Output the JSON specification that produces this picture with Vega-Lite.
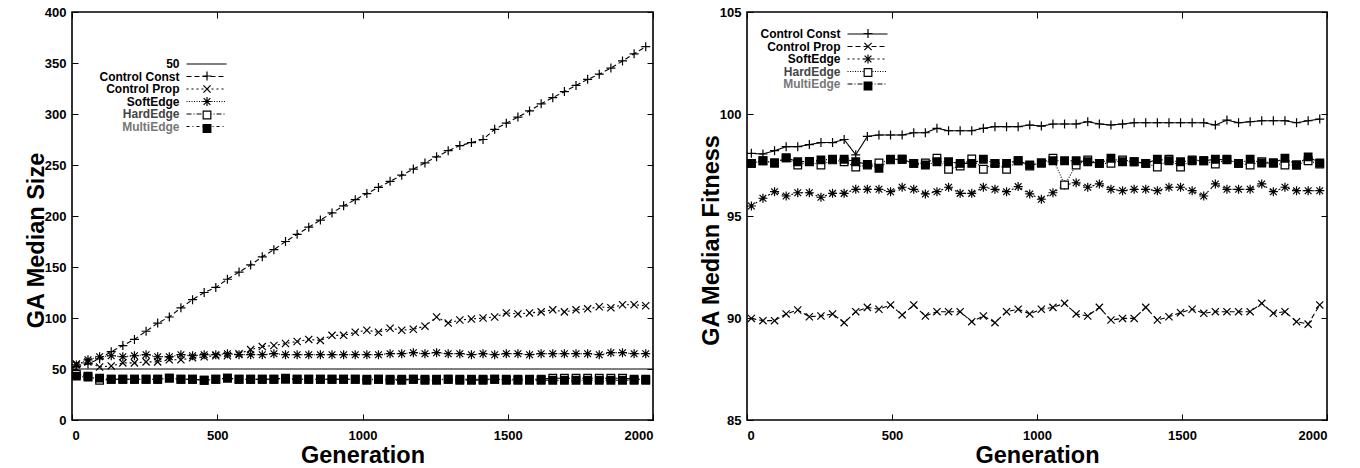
{
"$schema": "https://vega.github.io/schema/vega-lite/v6.json",
"background": "white",
"padding": {"left": 23, "top": 5, "right": 6, "bottom": 0},
"config": {
  "font": "Liberation Sans",
  "view": {"stroke": "black", "strokeWidth": 1.6},
  "axis": {"grid": false, "domain": false, "tickColor": "black", "tickSize": -6, "tickWidth": 1, "labelFont": "Liberation Sans", "labelFontSize": 13, "labelFontWeight": "bold", "labelColor": "black", "titleFont": "Liberation Sans", "titleFontSize": 23.5, "titleFontWeight": "bold", "titleColor": "black", "format": "d"},
  "axisX": {"labelPadding": 15, "titlePadding": 1},
  "axisY": {"labelPadding": 12, "titlePadding": -4, "titleY": 228},
  "legend": {"labelFont": "Liberation Sans", "labelFontSize": 12, "labelFontWeight": "bold", "labelColor": "black", "rowPadding": 0.5, "labelLimit": 300, "padding": 0}
},
"datasets": {
"size": [
{"g":0,"s":"50","v":50},{"g":2000,"s":"50","v":50},
{"g":15,"s":"Control Const","v":52},{"g":55,"s":"Control Const","v":55},{"g":95,"s":"Control Const","v":60},{"g":135,"s":"Control Const","v":67},{"g":175,"s":"Control Const","v":73},{"g":215,"s":"Control Const","v":79},{"g":255,"s":"Control Const","v":87},{"g":295,"s":"Control Const","v":95},{"g":335,"s":"Control Const","v":101},{"g":375,"s":"Control Const","v":110},
{"g":415,"s":"Control Const","v":118},{"g":455,"s":"Control Const","v":125},{"g":495,"s":"Control Const","v":130},{"g":535,"s":"Control Const","v":138},{"g":575,"s":"Control Const","v":145},{"g":615,"s":"Control Const","v":152},{"g":655,"s":"Control Const","v":160},{"g":695,"s":"Control Const","v":167},{"g":735,"s":"Control Const","v":175},{"g":775,"s":"Control Const","v":182},
{"g":815,"s":"Control Const","v":189},{"g":855,"s":"Control Const","v":196},{"g":895,"s":"Control Const","v":203},{"g":935,"s":"Control Const","v":210},{"g":975,"s":"Control Const","v":216},{"g":1015,"s":"Control Const","v":222},{"g":1055,"s":"Control Const","v":228},{"g":1095,"s":"Control Const","v":234},{"g":1135,"s":"Control Const","v":240},{"g":1175,"s":"Control Const","v":246},
{"g":1215,"s":"Control Const","v":252},{"g":1255,"s":"Control Const","v":258},{"g":1295,"s":"Control Const","v":264},{"g":1335,"s":"Control Const","v":269},{"g":1375,"s":"Control Const","v":272},{"g":1415,"s":"Control Const","v":275},{"g":1455,"s":"Control Const","v":285},{"g":1495,"s":"Control Const","v":291},{"g":1535,"s":"Control Const","v":297},{"g":1575,"s":"Control Const","v":303},
{"g":1615,"s":"Control Const","v":310},{"g":1655,"s":"Control Const","v":316},{"g":1695,"s":"Control Const","v":322},{"g":1735,"s":"Control Const","v":328},{"g":1775,"s":"Control Const","v":334},{"g":1815,"s":"Control Const","v":339},{"g":1855,"s":"Control Const","v":345},{"g":1895,"s":"Control Const","v":352},{"g":1935,"s":"Control Const","v":359},{"g":1975,"s":"Control Const","v":366},
{"g":15,"s":"Control Prop","v":55},{"g":55,"s":"Control Prop","v":57},{"g":95,"s":"Control Prop","v":52},{"g":135,"s":"Control Prop","v":53},{"g":175,"s":"Control Prop","v":56},{"g":215,"s":"Control Prop","v":56},{"g":255,"s":"Control Prop","v":57},{"g":295,"s":"Control Prop","v":57},{"g":335,"s":"Control Prop","v":59},{"g":375,"s":"Control Prop","v":59},
{"g":415,"s":"Control Prop","v":61},{"g":455,"s":"Control Prop","v":62},{"g":495,"s":"Control Prop","v":63},{"g":535,"s":"Control Prop","v":63},{"g":575,"s":"Control Prop","v":65},{"g":615,"s":"Control Prop","v":69},{"g":655,"s":"Control Prop","v":72},{"g":695,"s":"Control Prop","v":73},{"g":735,"s":"Control Prop","v":75},{"g":775,"s":"Control Prop","v":77},
{"g":815,"s":"Control Prop","v":79},{"g":855,"s":"Control Prop","v":78},{"g":895,"s":"Control Prop","v":83},{"g":935,"s":"Control Prop","v":83},{"g":975,"s":"Control Prop","v":86},{"g":1015,"s":"Control Prop","v":88},{"g":1055,"s":"Control Prop","v":86},{"g":1095,"s":"Control Prop","v":90},{"g":1135,"s":"Control Prop","v":88},{"g":1175,"s":"Control Prop","v":89},
{"g":1215,"s":"Control Prop","v":92},{"g":1255,"s":"Control Prop","v":101},{"g":1295,"s":"Control Prop","v":95},{"g":1335,"s":"Control Prop","v":98},{"g":1375,"s":"Control Prop","v":99},{"g":1415,"s":"Control Prop","v":100},{"g":1455,"s":"Control Prop","v":101},{"g":1495,"s":"Control Prop","v":105},{"g":1535,"s":"Control Prop","v":104},{"g":1575,"s":"Control Prop","v":105},
{"g":1615,"s":"Control Prop","v":106},{"g":1655,"s":"Control Prop","v":108},{"g":1695,"s":"Control Prop","v":106},{"g":1735,"s":"Control Prop","v":108},{"g":1775,"s":"Control Prop","v":109},{"g":1815,"s":"Control Prop","v":111},{"g":1855,"s":"Control Prop","v":110},{"g":1895,"s":"Control Prop","v":113},{"g":1935,"s":"Control Prop","v":113},{"g":1975,"s":"Control Prop","v":112},
{"g":15,"s":"SoftEdge","v":54},{"g":55,"s":"SoftEdge","v":59},{"g":95,"s":"SoftEdge","v":62},{"g":135,"s":"SoftEdge","v":63},{"g":175,"s":"SoftEdge","v":62},{"g":215,"s":"SoftEdge","v":63},{"g":255,"s":"SoftEdge","v":64},{"g":295,"s":"SoftEdge","v":62},{"g":335,"s":"SoftEdge","v":62},{"g":375,"s":"SoftEdge","v":64},
{"g":415,"s":"SoftEdge","v":63},{"g":455,"s":"SoftEdge","v":64},{"g":495,"s":"SoftEdge","v":64},{"g":535,"s":"SoftEdge","v":65},{"g":575,"s":"SoftEdge","v":64},{"g":615,"s":"SoftEdge","v":64},{"g":655,"s":"SoftEdge","v":64},{"g":695,"s":"SoftEdge","v":65},{"g":735,"s":"SoftEdge","v":64},{"g":775,"s":"SoftEdge","v":64},
{"g":815,"s":"SoftEdge","v":64},{"g":855,"s":"SoftEdge","v":64},{"g":895,"s":"SoftEdge","v":64},{"g":935,"s":"SoftEdge","v":64},{"g":975,"s":"SoftEdge","v":64},{"g":1015,"s":"SoftEdge","v":64},{"g":1055,"s":"SoftEdge","v":64},{"g":1095,"s":"SoftEdge","v":65},{"g":1135,"s":"SoftEdge","v":65},{"g":1175,"s":"SoftEdge","v":66},
{"g":1215,"s":"SoftEdge","v":65},{"g":1255,"s":"SoftEdge","v":66},{"g":1295,"s":"SoftEdge","v":65},{"g":1335,"s":"SoftEdge","v":65},{"g":1375,"s":"SoftEdge","v":64},{"g":1415,"s":"SoftEdge","v":65},{"g":1455,"s":"SoftEdge","v":64},{"g":1495,"s":"SoftEdge","v":65},{"g":1535,"s":"SoftEdge","v":65},{"g":1575,"s":"SoftEdge","v":64},
{"g":1615,"s":"SoftEdge","v":65},{"g":1655,"s":"SoftEdge","v":65},{"g":1695,"s":"SoftEdge","v":65},{"g":1735,"s":"SoftEdge","v":65},{"g":1775,"s":"SoftEdge","v":65},{"g":1815,"s":"SoftEdge","v":64},{"g":1855,"s":"SoftEdge","v":66},{"g":1895,"s":"SoftEdge","v":66},{"g":1935,"s":"SoftEdge","v":65},{"g":1975,"s":"SoftEdge","v":65},
{"g":15,"s":"HardEdge","v":45},{"g":55,"s":"HardEdge","v":43},{"g":95,"s":"HardEdge","v":39},{"g":135,"s":"HardEdge","v":40},{"g":175,"s":"HardEdge","v":40},{"g":215,"s":"HardEdge","v":40},{"g":255,"s":"HardEdge","v":40},{"g":295,"s":"HardEdge","v":40},{"g":335,"s":"HardEdge","v":41},{"g":375,"s":"HardEdge","v":40},
{"g":415,"s":"HardEdge","v":40},{"g":455,"s":"HardEdge","v":39},{"g":495,"s":"HardEdge","v":40},{"g":535,"s":"HardEdge","v":41},{"g":575,"s":"HardEdge","v":40},{"g":615,"s":"HardEdge","v":40},{"g":655,"s":"HardEdge","v":40},{"g":695,"s":"HardEdge","v":40},{"g":735,"s":"HardEdge","v":41},{"g":775,"s":"HardEdge","v":40},
{"g":815,"s":"HardEdge","v":40},{"g":855,"s":"HardEdge","v":40},{"g":895,"s":"HardEdge","v":40},{"g":935,"s":"HardEdge","v":40},{"g":975,"s":"HardEdge","v":40},{"g":1015,"s":"HardEdge","v":40},{"g":1055,"s":"HardEdge","v":40},{"g":1095,"s":"HardEdge","v":40},{"g":1135,"s":"HardEdge","v":40},{"g":1175,"s":"HardEdge","v":40},
{"g":1215,"s":"HardEdge","v":40},{"g":1255,"s":"HardEdge","v":40},{"g":1295,"s":"HardEdge","v":40},{"g":1335,"s":"HardEdge","v":40},{"g":1375,"s":"HardEdge","v":40},{"g":1415,"s":"HardEdge","v":40},{"g":1455,"s":"HardEdge","v":40},{"g":1495,"s":"HardEdge","v":40},{"g":1535,"s":"HardEdge","v":40},{"g":1575,"s":"HardEdge","v":40},
{"g":1615,"s":"HardEdge","v":40},{"g":1655,"s":"HardEdge","v":41},{"g":1695,"s":"HardEdge","v":41},{"g":1735,"s":"HardEdge","v":41},{"g":1775,"s":"HardEdge","v":41},{"g":1815,"s":"HardEdge","v":41},{"g":1855,"s":"HardEdge","v":41},{"g":1895,"s":"HardEdge","v":41},{"g":1935,"s":"HardEdge","v":40},{"g":1975,"s":"HardEdge","v":40},
{"g":15,"s":"MultiEdge","v":43},{"g":55,"s":"MultiEdge","v":42},{"g":95,"s":"MultiEdge","v":41},{"g":135,"s":"MultiEdge","v":40},{"g":175,"s":"MultiEdge","v":40},{"g":215,"s":"MultiEdge","v":40},{"g":255,"s":"MultiEdge","v":40},{"g":295,"s":"MultiEdge","v":40},{"g":335,"s":"MultiEdge","v":41},{"g":375,"s":"MultiEdge","v":40},
{"g":415,"s":"MultiEdge","v":40},{"g":455,"s":"MultiEdge","v":39},{"g":495,"s":"MultiEdge","v":40},{"g":535,"s":"MultiEdge","v":41},{"g":575,"s":"MultiEdge","v":40},{"g":615,"s":"MultiEdge","v":40},{"g":655,"s":"MultiEdge","v":40},{"g":695,"s":"MultiEdge","v":40},{"g":735,"s":"MultiEdge","v":40},{"g":775,"s":"MultiEdge","v":40},
{"g":815,"s":"MultiEdge","v":40},{"g":855,"s":"MultiEdge","v":40},{"g":895,"s":"MultiEdge","v":40},{"g":935,"s":"MultiEdge","v":40},{"g":975,"s":"MultiEdge","v":40},{"g":1015,"s":"MultiEdge","v":39},{"g":1055,"s":"MultiEdge","v":40},{"g":1095,"s":"MultiEdge","v":39},{"g":1135,"s":"MultiEdge","v":39},{"g":1175,"s":"MultiEdge","v":40},
{"g":1215,"s":"MultiEdge","v":39},{"g":1255,"s":"MultiEdge","v":39},{"g":1295,"s":"MultiEdge","v":40},{"g":1335,"s":"MultiEdge","v":39},{"g":1375,"s":"MultiEdge","v":39},{"g":1415,"s":"MultiEdge","v":39},{"g":1455,"s":"MultiEdge","v":40},{"g":1495,"s":"MultiEdge","v":39},{"g":1535,"s":"MultiEdge","v":39},{"g":1575,"s":"MultiEdge","v":39},
{"g":1615,"s":"MultiEdge","v":39},{"g":1655,"s":"MultiEdge","v":39},{"g":1695,"s":"MultiEdge","v":39},{"g":1735,"s":"MultiEdge","v":39},{"g":1775,"s":"MultiEdge","v":39},{"g":1815,"s":"MultiEdge","v":39},{"g":1855,"s":"MultiEdge","v":39},{"g":1895,"s":"MultiEdge","v":39},{"g":1935,"s":"MultiEdge","v":39},{"g":1975,"s":"MultiEdge","v":39}
],
"fitness": [
{"g":15,"s":"Control Const","v":98.07},{"g":55,"s":"Control Const","v":98.04},{"g":95,"s":"Control Const","v":98.2},{"g":135,"s":"Control Const","v":98.4},{"g":175,"s":"Control Const","v":98.4},{"g":215,"s":"Control Const","v":98.5},{"g":255,"s":"Control Const","v":98.6},{"g":295,"s":"Control Const","v":98.6},{"g":335,"s":"Control Const","v":98.75},{"g":375,"s":"Control Const","v":98.0},
{"g":415,"s":"Control Const","v":98.9},{"g":455,"s":"Control Const","v":98.97},{"g":495,"s":"Control Const","v":98.97},{"g":535,"s":"Control Const","v":98.97},{"g":575,"s":"Control Const","v":99.08},{"g":615,"s":"Control Const","v":99.08},{"g":655,"s":"Control Const","v":99.3},{"g":695,"s":"Control Const","v":99.18},{"g":735,"s":"Control Const","v":99.18},{"g":775,"s":"Control Const","v":99.18},
{"g":815,"s":"Control Const","v":99.3},{"g":855,"s":"Control Const","v":99.38},{"g":895,"s":"Control Const","v":99.38},{"g":935,"s":"Control Const","v":99.38},{"g":975,"s":"Control Const","v":99.46},{"g":1015,"s":"Control Const","v":99.41},{"g":1055,"s":"Control Const","v":99.51},{"g":1095,"s":"Control Const","v":99.51},{"g":1135,"s":"Control Const","v":99.51},{"g":1175,"s":"Control Const","v":99.62},
{"g":1215,"s":"Control Const","v":99.51},{"g":1255,"s":"Control Const","v":99.46},{"g":1295,"s":"Control Const","v":99.51},{"g":1335,"s":"Control Const","v":99.57},{"g":1375,"s":"Control Const","v":99.57},{"g":1415,"s":"Control Const","v":99.57},{"g":1455,"s":"Control Const","v":99.57},{"g":1495,"s":"Control Const","v":99.57},{"g":1535,"s":"Control Const","v":99.57},{"g":1575,"s":"Control Const","v":99.57},
{"g":1615,"s":"Control Const","v":99.46},{"g":1655,"s":"Control Const","v":99.7},{"g":1695,"s":"Control Const","v":99.57},{"g":1735,"s":"Control Const","v":99.62},{"g":1775,"s":"Control Const","v":99.67},{"g":1815,"s":"Control Const","v":99.67},{"g":1855,"s":"Control Const","v":99.67},{"g":1895,"s":"Control Const","v":99.57},{"g":1935,"s":"Control Const","v":99.67},{"g":1975,"s":"Control Const","v":99.75},
{"g":15,"s":"Control Prop","v":89.98},{"g":55,"s":"Control Prop","v":89.87},{"g":95,"s":"Control Prop","v":89.87},{"g":135,"s":"Control Prop","v":90.2},{"g":175,"s":"Control Prop","v":90.39},{"g":215,"s":"Control Prop","v":90.06},{"g":255,"s":"Control Prop","v":90.1},{"g":295,"s":"Control Prop","v":90.2},{"g":335,"s":"Control Prop","v":89.77},{"g":375,"s":"Control Prop","v":90.31},
{"g":415,"s":"Control Prop","v":90.52},{"g":455,"s":"Control Prop","v":90.43},{"g":495,"s":"Control Prop","v":90.64},{"g":535,"s":"Control Prop","v":90.15},{"g":575,"s":"Control Prop","v":90.64},{"g":615,"s":"Control Prop","v":90.1},{"g":655,"s":"Control Prop","v":90.31},{"g":695,"s":"Control Prop","v":90.31},{"g":735,"s":"Control Prop","v":90.31},{"g":775,"s":"Control Prop","v":89.82},
{"g":815,"s":"Control Prop","v":90.1},{"g":855,"s":"Control Prop","v":89.77},{"g":895,"s":"Control Prop","v":90.31},{"g":935,"s":"Control Prop","v":90.43},{"g":975,"s":"Control Prop","v":90.2},{"g":1015,"s":"Control Prop","v":90.43},{"g":1055,"s":"Control Prop","v":90.52},{"g":1095,"s":"Control Prop","v":90.72},{"g":1135,"s":"Control Prop","v":90.2},{"g":1175,"s":"Control Prop","v":90.1},
{"g":1215,"s":"Control Prop","v":90.52},{"g":1255,"s":"Control Prop","v":89.9},{"g":1295,"s":"Control Prop","v":89.98},{"g":1335,"s":"Control Prop","v":89.98},{"g":1375,"s":"Control Prop","v":90.52},{"g":1415,"s":"Control Prop","v":89.9},{"g":1455,"s":"Control Prop","v":90.06},{"g":1495,"s":"Control Prop","v":90.26},{"g":1535,"s":"Control Prop","v":90.43},{"g":1575,"s":"Control Prop","v":90.23},
{"g":1615,"s":"Control Prop","v":90.31},{"g":1655,"s":"Control Prop","v":90.31},{"g":1695,"s":"Control Prop","v":90.31},{"g":1735,"s":"Control Prop","v":90.31},{"g":1775,"s":"Control Prop","v":90.72},{"g":1815,"s":"Control Prop","v":90.23},{"g":1855,"s":"Control Prop","v":90.31},{"g":1895,"s":"Control Prop","v":89.82},{"g":1935,"s":"Control Prop","v":89.7},{"g":1975,"s":"Control Prop","v":90.64},
{"g":15,"s":"SoftEdge","v":95.49},{"g":55,"s":"SoftEdge","v":95.87},{"g":95,"s":"SoftEdge","v":96.19},{"g":135,"s":"SoftEdge","v":95.98},{"g":175,"s":"SoftEdge","v":96.14},{"g":215,"s":"SoftEdge","v":96.14},{"g":255,"s":"SoftEdge","v":95.92},{"g":295,"s":"SoftEdge","v":96.11},{"g":335,"s":"SoftEdge","v":96.11},{"g":375,"s":"SoftEdge","v":96.31},
{"g":415,"s":"SoftEdge","v":96.31},{"g":455,"s":"SoftEdge","v":96.31},{"g":495,"s":"SoftEdge","v":96.19},{"g":535,"s":"SoftEdge","v":96.41},{"g":575,"s":"SoftEdge","v":96.31},{"g":615,"s":"SoftEdge","v":96.08},{"g":655,"s":"SoftEdge","v":96.19},{"g":695,"s":"SoftEdge","v":96.41},{"g":735,"s":"SoftEdge","v":96.11},{"g":775,"s":"SoftEdge","v":96.11},
{"g":815,"s":"SoftEdge","v":96.41},{"g":855,"s":"SoftEdge","v":96.31},{"g":895,"s":"SoftEdge","v":96.19},{"g":935,"s":"SoftEdge","v":96.44},{"g":975,"s":"SoftEdge","v":96.08},{"g":1015,"s":"SoftEdge","v":95.82},{"g":1055,"s":"SoftEdge","v":96.14},{"g":1095,"s":"SoftEdge","v":96.52},{"g":1135,"s":"SoftEdge","v":96.63},{"g":1175,"s":"SoftEdge","v":96.41},
{"g":1215,"s":"SoftEdge","v":96.57},{"g":1255,"s":"SoftEdge","v":96.31},{"g":1295,"s":"SoftEdge","v":96.24},{"g":1335,"s":"SoftEdge","v":96.31},{"g":1375,"s":"SoftEdge","v":96.31},{"g":1415,"s":"SoftEdge","v":96.24},{"g":1455,"s":"SoftEdge","v":96.41},{"g":1495,"s":"SoftEdge","v":96.41},{"g":1535,"s":"SoftEdge","v":96.24},{"g":1575,"s":"SoftEdge","v":95.98},
{"g":1615,"s":"SoftEdge","v":96.57},{"g":1655,"s":"SoftEdge","v":96.31},{"g":1695,"s":"SoftEdge","v":96.31},{"g":1735,"s":"SoftEdge","v":96.31},{"g":1775,"s":"SoftEdge","v":96.57},{"g":1815,"s":"SoftEdge","v":96.19},{"g":1855,"s":"SoftEdge","v":96.41},{"g":1895,"s":"SoftEdge","v":96.24},{"g":1935,"s":"SoftEdge","v":96.24},{"g":1975,"s":"SoftEdge","v":96.24},
{"g":15,"s":"HardEdge","v":97.58},{"g":55,"s":"HardEdge","v":97.71},{"g":95,"s":"HardEdge","v":97.6},{"g":135,"s":"HardEdge","v":97.85},{"g":175,"s":"HardEdge","v":97.5},{"g":215,"s":"HardEdge","v":97.66},{"g":255,"s":"HardEdge","v":97.5},{"g":295,"s":"HardEdge","v":97.75},{"g":335,"s":"HardEdge","v":97.66},{"g":375,"s":"HardEdge","v":97.4},
{"g":415,"s":"HardEdge","v":97.5},{"g":455,"s":"HardEdge","v":97.6},{"g":495,"s":"HardEdge","v":97.75},{"g":535,"s":"HardEdge","v":97.78},{"g":575,"s":"HardEdge","v":97.58},{"g":615,"s":"HardEdge","v":97.6},{"g":655,"s":"HardEdge","v":97.83},{"g":695,"s":"HardEdge","v":97.29},{"g":735,"s":"HardEdge","v":97.45},{"g":775,"s":"HardEdge","v":97.8},
{"g":815,"s":"HardEdge","v":97.29},{"g":855,"s":"HardEdge","v":97.58},{"g":895,"s":"HardEdge","v":97.29},{"g":935,"s":"HardEdge","v":97.71},{"g":975,"s":"HardEdge","v":97.45},{"g":1015,"s":"HardEdge","v":97.6},{"g":1055,"s":"HardEdge","v":97.83},{"g":1095,"s":"HardEdge","v":96.52},{"g":1135,"s":"HardEdge","v":97.5},{"g":1175,"s":"HardEdge","v":97.75},
{"g":1215,"s":"HardEdge","v":97.58},{"g":1255,"s":"HardEdge","v":97.58},{"g":1295,"s":"HardEdge","v":97.75},{"g":1335,"s":"HardEdge","v":97.66},{"g":1375,"s":"HardEdge","v":97.58},{"g":1415,"s":"HardEdge","v":97.4},{"g":1455,"s":"HardEdge","v":97.78},{"g":1495,"s":"HardEdge","v":97.4},{"g":1535,"s":"HardEdge","v":97.75},{"g":1575,"s":"HardEdge","v":97.71},
{"g":1615,"s":"HardEdge","v":97.55},{"g":1655,"s":"HardEdge","v":97.78},{"g":1695,"s":"HardEdge","v":97.58},{"g":1735,"s":"HardEdge","v":97.5},{"g":1775,"s":"HardEdge","v":97.66},{"g":1815,"s":"HardEdge","v":97.6},{"g":1855,"s":"HardEdge","v":97.5},{"g":1895,"s":"HardEdge","v":97.5},{"g":1935,"s":"HardEdge","v":97.71},{"g":1975,"s":"HardEdge","v":97.55},
{"g":15,"s":"MultiEdge","v":97.58},{"g":55,"s":"MultiEdge","v":97.71},{"g":95,"s":"MultiEdge","v":97.6},{"g":135,"s":"MultiEdge","v":97.85},{"g":175,"s":"MultiEdge","v":97.66},{"g":215,"s":"MultiEdge","v":97.68},{"g":255,"s":"MultiEdge","v":97.75},{"g":295,"s":"MultiEdge","v":97.78},{"g":335,"s":"MultiEdge","v":97.78},{"g":375,"s":"MultiEdge","v":97.66},
{"g":415,"s":"MultiEdge","v":97.53},{"g":455,"s":"MultiEdge","v":97.34},{"g":495,"s":"MultiEdge","v":97.78},{"g":535,"s":"MultiEdge","v":97.78},{"g":575,"s":"MultiEdge","v":97.58},{"g":615,"s":"MultiEdge","v":97.5},{"g":655,"s":"MultiEdge","v":97.66},{"g":695,"s":"MultiEdge","v":97.66},{"g":735,"s":"MultiEdge","v":97.58},{"g":775,"s":"MultiEdge","v":97.58},
{"g":815,"s":"MultiEdge","v":97.78},{"g":855,"s":"MultiEdge","v":97.58},{"g":895,"s":"MultiEdge","v":97.58},{"g":935,"s":"MultiEdge","v":97.71},{"g":975,"s":"MultiEdge","v":97.5},{"g":1015,"s":"MultiEdge","v":97.6},{"g":1055,"s":"MultiEdge","v":97.71},{"g":1095,"s":"MultiEdge","v":97.71},{"g":1135,"s":"MultiEdge","v":97.71},{"g":1175,"s":"MultiEdge","v":97.66},
{"g":1215,"s":"MultiEdge","v":97.58},{"g":1255,"s":"MultiEdge","v":97.83},{"g":1295,"s":"MultiEdge","v":97.66},{"g":1335,"s":"MultiEdge","v":97.66},{"g":1375,"s":"MultiEdge","v":97.58},{"g":1415,"s":"MultiEdge","v":97.78},{"g":1455,"s":"MultiEdge","v":97.71},{"g":1495,"s":"MultiEdge","v":97.66},{"g":1535,"s":"MultiEdge","v":97.71},{"g":1575,"s":"MultiEdge","v":97.71},
{"g":1615,"s":"MultiEdge","v":97.78},{"g":1655,"s":"MultiEdge","v":97.75},{"g":1695,"s":"MultiEdge","v":97.58},{"g":1735,"s":"MultiEdge","v":97.78},{"g":1775,"s":"MultiEdge","v":97.6},{"g":1815,"s":"MultiEdge","v":97.6},{"g":1855,"s":"MultiEdge","v":97.83},{"g":1895,"s":"MultiEdge","v":97.5},{"g":1935,"s":"MultiEdge","v":97.9},{"g":1975,"s":"MultiEdge","v":97.6}
]
},
"spacing": 41,
"resolve": {"scale": {"shape": "independent", "strokeDash": "independent", "fill": "independent"}, "legend": {"shape": "independent", "strokeDash": "independent"}},
"hconcat": [
{
 "width": 581, "height": 408,
 "data": {"name": "size"},
 "resolve": {"axis": {"x": "independent", "y": "independent"}},
 "layer": [
  {"mark": {"type": "line", "stroke": "black", "strokeWidth": 1.1},
   "encoding": {
    "x": {"field": "g", "type": "quantitative", "scale": {"domain": [0, 2000], "nice": false}, "axis": {"values": [0, 500, 1000, 1500, 2000], "title": "Generation"}},
    "y": {"field": "v", "type": "quantitative", "scale": {"domain": [0, 400], "nice": false}, "axis": {"values": [0, 50, 100, 150, 200, 250, 300, 350, 400], "title": "GA Median Size"}},
    "strokeDash": {"field": "s", "type": "nominal",
      "scale": {"domain": ["50", "Control Const", "Control Prop", "SoftEdge", "HardEdge", "MultiEdge"], "range": [[1, 0], [5, 3], [2, 3], [1, 1.5], [5, 2, 1, 2], [3, 3, 1, 3]]},
      "legend": {"orient": "none", "legendX": 128.5, "legendY": 46, "title": null, "symbolType": "M-4,0L4,0", "symbolSize": 100, "symbolStrokeWidth": 1.1, "symbolStrokeColor": "black", "labelAlign": "right", "labelOffset": -33,
        "encode": {"labels": {"update": {"fill": {"signal": "datum.label === 'MultiEdge' ? '#777777' : datum.label === 'HardEdge' ? '#444444' : 'black'"}}}}}}
   }},
  {"transform": [{"filter": "datum.s !== '50'"}],
   "mark": {"type": "point", "filled": false, "color": "black", "stroke": "black", "strokeWidth": 1.2, "size": 81, "opacity": 1},
   "encoding": {
    "x": {"field": "g", "type": "quantitative", "axis": null},
    "y": {"field": "v", "type": "quantitative", "axis": null},
    "shape": {"field": "s", "type": "nominal",
      "scale": {"domain": ["50", "Control Const", "Control Prop", "SoftEdge", "HardEdge", "MultiEdge", ""], "range": ["M0,0L0,0", "M-1,0L1,0M0,-1L0,1", "M-0.8,-0.8L0.8,0.8M-0.8,0.8L0.8,-0.8", "M-1,0L1,0M0,-1L0,1M-0.75,-0.75L0.75,0.75M-0.75,0.75L0.75,-0.75", "M-0.85,-0.85L0.85,-0.85L0.85,0.85L-0.85,0.85Z", "M-0.85,-0.85H0.85V0.85H-0.85ZM-0.85,-0.6H0.85M-0.85,-0.4H0.85M-0.85,-0.2H0.85M-0.85,0H0.85M-0.85,0.2H0.85M-0.85,0.4H0.85M-0.85,0.6H0.85", "M0,0L0,0"]},
      "legend": {"orient": "none", "legendX": 129, "legendY": 45.5, "title": null, "symbolSize": 81, "symbolStrokeWidth": 1.2, "symbolStrokeColor": "black", "symbolFillColor": "white", "labelColor": "transparent", "rowPadding": -0.5}},
    "fill": {"field": "s", "type": "nominal", "scale": {"domain": ["50", "Control Const", "Control Prop", "SoftEdge", "HardEdge", "MultiEdge"], "range": ["transparent", "transparent", "transparent", "transparent", "white", "black"]}, "legend": null}
   }},
  {"mark": {"type": "point", "opacity": 0},
   "encoding": {
    "x": {"field": "g", "type": "quantitative", "axis": {"orient": "top", "labels": false, "title": null, "values": [0, 500, 1000, 1500, 2000]}},
    "y": {"field": "v", "type": "quantitative", "axis": {"orient": "right", "labels": false, "title": null, "values": [0, 50, 100, 150, 200, 250, 300, 350, 400]}}
   }}
 ]
},
{
 "width": 580, "height": 408,
 "data": {"name": "fitness"},
 "resolve": {"axis": {"x": "independent", "y": "independent"}},
 "layer": [
  {"mark": {"type": "line", "stroke": "black", "strokeWidth": 1.1},
   "encoding": {
    "x": {"field": "g", "type": "quantitative", "scale": {"domain": [0, 2000], "nice": false}, "axis": {"values": [0, 500, 1000, 1500, 2000], "title": "Generation"}},
    "y": {"field": "v", "type": "quantitative", "scale": {"domain": [85, 105], "nice": false, "zero": false}, "axis": {"values": [85, 90, 95, 100, 105], "title": "GA Median Fitness"}},
    "strokeDash": {"field": "s", "type": "nominal",
      "scale": {"domain": ["Control Const", "Control Prop", "SoftEdge", "HardEdge", "MultiEdge"], "range": [[1, 0], [5, 3], [2, 3], [1, 1.5], [5, 2, 1, 2]]},
      "legend": {"orient": "none", "legendX": 114.5, "legendY": 16, "title": null, "symbolType": "M-4,0L4,0", "symbolSize": 100, "symbolStrokeWidth": 1.1, "symbolStrokeColor": "black", "labelAlign": "right", "labelOffset": -33,
        "encode": {"labels": {"update": {"fill": {"signal": "datum.label === 'MultiEdge' ? '#777777' : datum.label === 'HardEdge' ? '#444444' : 'black'"}}}}}}
   }},
  {"mark": {"type": "point", "filled": false, "color": "black", "stroke": "black", "strokeWidth": 1.2, "size": 81, "opacity": 1},
   "encoding": {
    "x": {"field": "g", "type": "quantitative", "axis": null},
    "y": {"field": "v", "type": "quantitative", "axis": null},
    "shape": {"field": "s", "type": "nominal",
      "scale": {"domain": ["Control Const", "Control Prop", "SoftEdge", "HardEdge", "MultiEdge", ""], "range": ["M-1,0L1,0M0,-1L0,1", "M-0.8,-0.8L0.8,0.8M-0.8,0.8L0.8,-0.8", "M-1,0L1,0M0,-1L0,1M-0.75,-0.75L0.75,0.75M-0.75,0.75L0.75,-0.75", "M-0.85,-0.85L0.85,-0.85L0.85,0.85L-0.85,0.85Z", "M-0.85,-0.85H0.85V0.85H-0.85ZM-0.85,-0.6H0.85M-0.85,-0.4H0.85M-0.85,-0.2H0.85M-0.85,0H0.85M-0.85,0.2H0.85M-0.85,0.4H0.85M-0.85,0.6H0.85", "M0,0L0,0"]},
      "legend": {"orient": "none", "legendX": 115, "legendY": 15.5, "title": null, "symbolSize": 81, "symbolStrokeWidth": 1.2, "symbolStrokeColor": "black", "symbolFillColor": "white", "labelColor": "transparent", "rowPadding": -0.5}},
    "fill": {"field": "s", "type": "nominal", "scale": {"domain": ["Control Const", "Control Prop", "SoftEdge", "HardEdge", "MultiEdge"], "range": ["transparent", "transparent", "transparent", "white", "black"]}, "legend": null}
   }},
  {"mark": {"type": "point", "opacity": 0},
   "encoding": {
    "x": {"field": "g", "type": "quantitative", "axis": {"orient": "top", "labels": false, "title": null, "values": [0, 500, 1000, 1500, 2000]}},
    "y": {"field": "v", "type": "quantitative", "axis": {"orient": "right", "labels": false, "title": null, "values": [85, 90, 95, 100, 105]}}
   }}
 ]
}
]
}
